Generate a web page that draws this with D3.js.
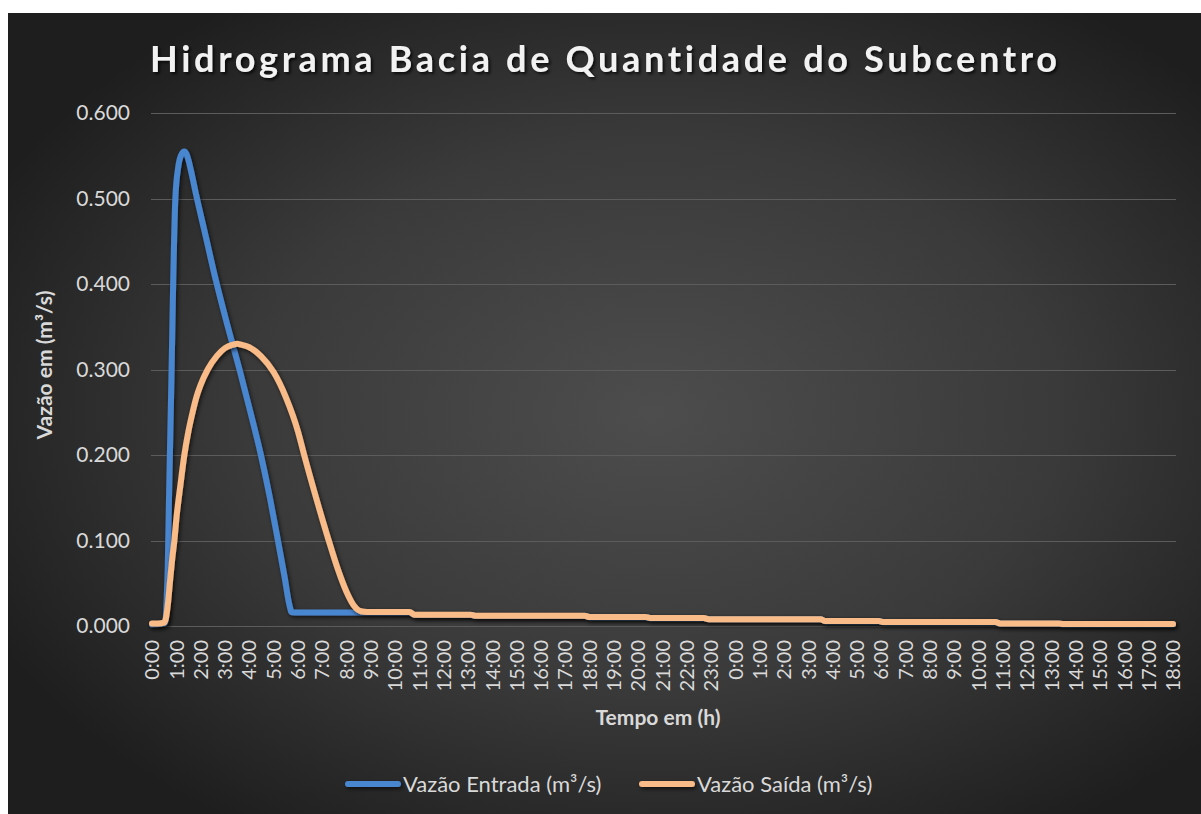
<!DOCTYPE html>
<html><head><meta charset="utf-8">
<script src="https://cdn.jsdelivr.net/npm/d3@7/dist/d3.min.js"></script>
<style>
html,body{margin:0;padding:0;background:#fff;}
svg{display:block;font-family:Lato,"Open Sans",sans-serif;font-variant-ligatures:none;}
</style>
</head><body>
<svg id="chart" width="1201" height="814"></svg>
<script>
// ---- data (time in hours from start, flow in m³/s) ----
const tickLabels = ["0:00","1:00","2:00","3:00","4:00","5:00","6:00","7:00","8:00","9:00","10:00","11:00","12:00","13:00","14:00","15:00","16:00","17:00","18:00","19:00","20:00","21:00","22:00","23:00","0:00","1:00","2:00","3:00","4:00","5:00","6:00","7:00","8:00","9:00","10:00","11:00","12:00","13:00","14:00","15:00","16:00","17:00","18:00"];
const yTicks = [0, 0.1, 0.2, 0.3, 0.4, 0.5, 0.6];

const entradaHours  = [0, 0.5, 0.55, 0.6, 0.65, 0.7, 0.75, 0.8, 0.87, 0.96, 1.08, 1.2, 1.33, 1.42, 1.5, 1.6, 1.81, 2.2, 2.63, 3.1, 3.6, 4.05, 4.48, 4.85, 5.18, 5.45, 5.65, 5.75, 6.0, 8.75, 10.6, 10.8, 13.1, 13.3, 17.8, 18.0, 20.3, 20.5, 22.7, 22.9, 27.5, 27.7, 29.9, 30.1, 34.7, 34.9, 37.3, 37.5, 42.0];
const entradaValues = [0.002, 0.003, 0.004, 0.03, 0.07, 0.15, 0.22, 0.29, 0.40, 0.50, 0.537, 0.551, 0.555, 0.552, 0.545, 0.533, 0.505, 0.457, 0.404, 0.352, 0.300, 0.250, 0.200, 0.150, 0.100, 0.058, 0.025, 0.016, 0.0158, 0.0158, 0.0158, 0.0130, 0.0130, 0.0118, 0.0118, 0.0103, 0.0103, 0.0092, 0.0092, 0.0078, 0.0078, 0.0056, 0.0056, 0.0045, 0.0045, 0.0026, 0.0026, 0.0021, 0.0021];

const saidaHours  = [0, 0.25, 0.5, 0.58, 0.67, 0.75, 0.83, 0.92, 1.0, 1.17, 1.33, 1.5, 1.67, 1.83, 2.0, 2.29, 2.67, 3.0, 3.33, 3.5, 3.67, 4.0, 4.5, 5.0, 5.5, 6.0, 6.26, 6.75, 7.27, 7.65, 8.0, 8.3, 8.6, 8.85, 10.6, 10.8, 13.1, 13.3, 17.8, 18.0, 20.3, 20.5, 22.7, 22.9, 27.5, 27.7, 29.9, 30.1, 34.7, 34.9, 37.3, 37.5, 42.0];
const saidaValues = [0.003, 0.003, 0.004, 0.010, 0.030, 0.055, 0.078, 0.100, 0.125, 0.165, 0.200, 0.228, 0.250, 0.268, 0.282, 0.300, 0.316, 0.325, 0.329, 0.330, 0.329, 0.326, 0.315, 0.297, 0.268, 0.228, 0.200, 0.150, 0.100, 0.066, 0.040, 0.024, 0.0172, 0.0164, 0.0164, 0.0132, 0.0132, 0.0120, 0.0120, 0.0105, 0.0105, 0.0094, 0.0094, 0.0080, 0.0080, 0.0058, 0.0058, 0.0047, 0.0047, 0.0028, 0.0028, 0.0023, 0.0023];

const seriesNames = ["Vazão Entrada (m³/s)", "Vazão Saída (m³/s)"];
const seriesColors = ["#4a86d0", "#f9bb87"];

// ---- drawing ----
const svg = d3.select("#chart");
const defs = svg.append("defs");
const grad = defs.append("radialGradient").attr("id","bg")
  .attr("cx","54%").attr("cy","50%").attr("r","62%");
grad.append("stop").attr("offset","0%").attr("stop-color","#4d4d4d");
grad.append("stop").attr("offset","55%").attr("stop-color","#3a3a3a");
grad.append("stop").attr("offset","100%").attr("stop-color","#1e1e1e");

const shadow = defs.append("filter").attr("id","shadow").attr("filterUnits","userSpaceOnUse")
  .attr("x",0).attr("y",0).attr("width",1201).attr("height",814);
shadow.append("feDropShadow").attr("dx",1.5).attr("dy",2).attr("stdDeviation",2)
  .attr("flood-color","#000").attr("flood-opacity",0.65);
const tshadow = defs.append("filter").attr("id","tshadow").attr("filterUnits","userSpaceOnUse")
  .attr("x",0).attr("y",0).attr("width",1201).attr("height",814);
tshadow.append("feDropShadow").attr("dx",2).attr("dy",2).attr("stdDeviation",1.8)
  .attr("flood-color","#000").attr("flood-opacity",0.75);

svg.append("rect").attr("x",8).attr("y",13).attr("width",1193).attr("height",801)
  .attr("fill","url(#bg)");

const x = d3.scaleLinear().domain([0, 42]).range([152, 1173]);
const y = d3.scaleLinear().domain([0, 0.6]).range([626, 113]);

// gridlines
svg.append("g").selectAll("line").data(yTicks).join("line")
  .attr("x1",151).attr("x2",1176)
  .attr("y1",d=>Math.round(y(d))+0.5).attr("y2",d=>Math.round(y(d))+0.5)
  .attr("stroke","#5c5c5c").attr("stroke-width",1.2);

// y axis
const yAxis = d3.axisLeft(y).tickValues(yTicks).tickFormat(d3.format(".3f")).tickSize(0).tickPadding(0);
const gy = svg.append("g").attr("transform","translate(130,0)").call(yAxis);
gy.select(".domain").remove();
gy.selectAll("text").attr("fill","#d9d9d9").attr("font-size",21).attr("font-family","Lato");

// x axis labels
const gx = svg.append("g");
gx.selectAll("text").data(tickLabels).join("text")
  .attr("transform",(d,i)=>`translate(${x(i)},640) rotate(-90)`)
  .attr("text-anchor","end").attr("dy","0.36em")
  .attr("fill","#d9d9d9").attr("font-size",20)
  .text(d=>d);

// lines
const line = d3.line().x(d=>x(d[0])).y(d=>y(d[1])).curve(d3.curveMonotoneX);
const entrada = entradaHours.map((h,i)=>[h, entradaValues[i]]);
const saida = saidaHours.map((h,i)=>[h, saidaValues[i]]);
[entrada, saida].forEach((s,k)=>{
  svg.append("path").datum(s).attr("d",line)
    .attr("fill","none").attr("stroke",seriesColors[k]).attr("stroke-width",6)
    .attr("stroke-linecap","round").attr("stroke-linejoin","round")
    .attr("filter","url(#shadow)");
});

// title
svg.append("text").attr("x",150).attr("y",72)
  .attr("textLength",907).attr("lengthAdjust","spacing")
  .attr("font-size",36).attr("font-weight","bold").attr("fill","#f2f2f2")
  .attr("filter","url(#tshadow)")
  .text("Hidrograma Bacia de Quantidade do Subcentro");

// axis titles
svg.append("text").attr("x",658).attr("y",725).attr("text-anchor","middle")
  .attr("font-size",21).attr("font-weight","bold").attr("fill","#d9d9d9")
  .text("Tempo em (h)");
svg.append("text").attr("transform","translate(45,365) rotate(-90)")
  .attr("text-anchor","middle").attr("dy","0.35em")
  .attr("font-size",21).attr("font-weight","bold").attr("fill","#d9d9d9")
  .text("Vazão em (m³/s)");

// legend
const legX = [348, 642];
seriesNames.forEach((n,k)=>{
  svg.append("line").attr("x1",legX[k]).attr("x2",legX[k]+50).attr("y1",784).attr("y2",784)
    .attr("stroke",seriesColors[k]).attr("stroke-width",6).attr("stroke-linecap","round")
    .attr("filter","url(#shadow)");
  svg.append("text").attr("x",legX[k]+55).attr("y",784).attr("dy","0.35em")
    .attr("font-size",22).attr("fill","#d9d9d9").text(n);
});
</script>
</body></html>
